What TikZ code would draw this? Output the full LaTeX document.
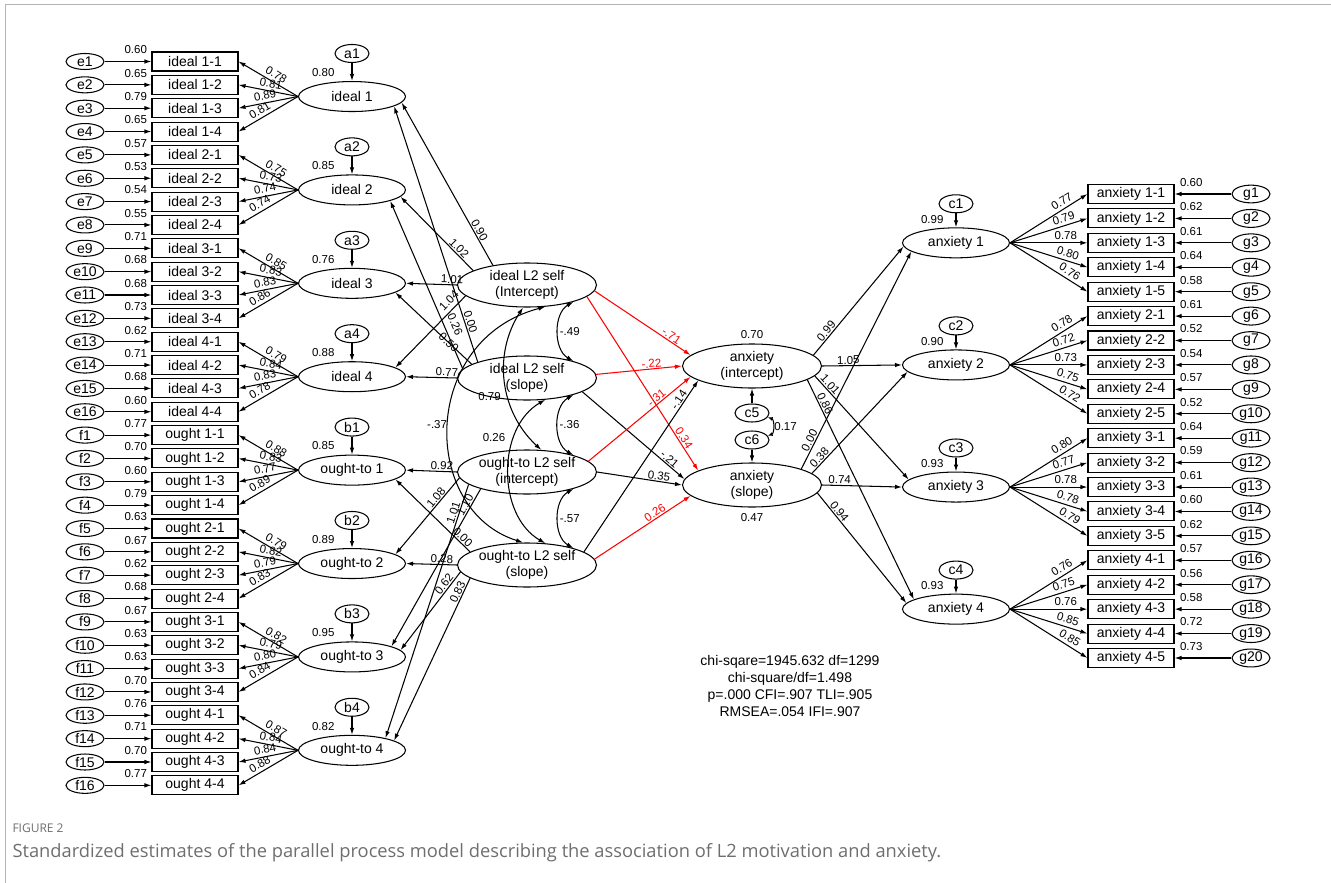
\documentclass[tikz,border=0pt]{standalone}
\usepackage{fontspec}
\setmainfont{Liberation Sans}
\newfontfamily\capfont{Open Sans}
\usetikzlibrary{arrows.meta,positioning,shapes.geometric}

\definecolor{capgray}{RGB}{110,110,110}
\definecolor{framegray}{RGB}{180,180,180}

\tikzset{
  obs/.style={draw, rectangle, minimum width=86pt, minimum height=19pt, inner sep=0pt, font=\fontsize{14}{16}\selectfont},
  lat/.style={draw, ellipse, minimum width=107pt, minimum height=30pt, inner sep=0pt, font=\fontsize{14}{16}\selectfont},
  growth/.style={draw, ellipse, minimum width=139pt, minimum height=44pt, inner sep=0pt, align=center, font=\fontsize{14}{16}\selectfont},
  err/.style={draw, ellipse, minimum width=38pt, minimum height=16pt, inner sep=0pt, font=\fontsize{14}{16}\selectfont},
  dist/.style={draw, ellipse, minimum width=34pt, minimum height=18pt, inner sep=0pt, font=\fontsize{14}{16}\selectfont},
  num/.style={inner sep=1pt, font=\fontsize{11.5}{13}\selectfont},
  reg/.style={-{Latex[length=7pt,width=4.5pt]}},
  rev/.style={{Latex[length=7pt,width=4.5pt]}-},
  cov/.style={{Latex[length=7pt,width=4.5pt]}-{Latex[length=7pt,width=4.5pt]}},
  hot/.style={reg, draw=red},
}

\begin{document}
\begin{tikzpicture}[x=1pt, y=-1pt, line width=1.05pt]
\useasboundingbox (0,0) rectangle (1331,883);
\draw[framegray, line width=1pt] (5,883) -- (5,5) -- (1331,5);

% items of the ideal L2 self
\foreach \kk in {1,...,4} {
  \foreach \mm in {1,...,4} {
    \pgfmathtruncatemacro\nn{4*(\kk-1)+\mm}
    \pgfmathsetmacro\yy{61.5+23.35*(\nn-1)}
    \node[err] (u\nn) at (85,\yy) {e\nn};
    \node[obs] (x\nn) at (195,\yy) {ideal \kk-\mm};
    \draw[reg] (u\nn) -- (x\nn);
  }
}
% items of the ought-to L2 self
\foreach \kk in {1,...,4} {
  \foreach \mm in {1,...,4} {
    \pgfmathtruncatemacro\jj{4*(\kk-1)+\mm}
    \pgfmathtruncatemacro\nn{16+\jj}
    \pgfmathsetmacro\yy{61.5+23.35*(\nn-1)}
    \node[err] (u\nn) at (85,\yy) {f\jj};
    \node[obs] (x\nn) at (195,\yy) {ought \kk-\mm};
    \draw[reg] (u\nn) -- (x\nn);
  }
}

% first-order factors, left
\foreach \kk/\txt/\rname/\rval in {1/ideal 1/a1/0.80, 2/ideal 2/a2/0.85, 3/ideal 3/a3/0.76, 4/ideal 4/a4/0.88,
    5/ought-to 1/b1/0.85, 6/ought-to 2/b2/0.89, 7/ought-to 3/b3/0.95, 8/ought-to 4/b4/0.82} {
  \pgfmathsetmacro\yy{61.5+23.35*(4*\kk-2.5)}
  \node[lat] (mot\kk) at (352,\yy) {\txt};
  \node[dist, above=18pt of mot\kk] (d\kk) {\rname};
  \draw[reg] (d\kk) -- (mot\kk);
  \node[num, anchor=south east, xshift=-16pt, yshift=3pt] (v\kk) at (mot\kk.north) {\rval};
}

% loadings and squared multiple correlations, left
\foreach \nn/\sq/\ld in {1/0.60/0.78, 2/0.65/0.81, 3/0.79/0.89, 4/0.65/0.81,
    5/0.57/0.75, 6/0.53/0.73, 7/0.54/0.74, 8/0.55/0.74,
    9/0.71/0.85, 10/0.68/0.83, 11/0.68/0.83, 12/0.73/0.86,
    13/0.62/0.79, 14/0.71/0.84, 15/0.68/0.83, 16/0.60/0.78,
    17/0.77/0.88, 18/0.70/0.83, 19/0.60/0.77, 20/0.79/0.89,
    21/0.63/0.79, 22/0.67/0.82, 23/0.62/0.79, 24/0.68/0.83,
    25/0.67/0.82, 26/0.63/0.79, 27/0.63/0.80, 28/0.70/0.84,
    29/0.76/0.87, 30/0.71/0.84, 31/0.70/0.84, 32/0.77/0.88} {
  \pgfmathtruncatemacro\qq{(\nn-1)/4+1}
  \pgfmathsetmacro\pp{0.62-0.05*(\nn-4*(\qq-1))}
  \node[num, anchor=south east, xshift=-3pt, yshift=-4pt] (s\nn) at (x\nn.north west) {\sq};
  \draw[rev] (x\nn.east) -- node[num, sloped, above=2pt, pos=\pp] {\ld} (mot\qq.west);
}

% items of anxiety
\foreach \kk in {1,...,4} {
  \foreach \mm in {1,...,5} {
    \pgfmathtruncatemacro\nn{5*(\kk-1)+\mm}
    \pgfmathsetmacro\yy{194+24.42*(\nn-1)}
    \node[obs] (z\nn) at (1131,\yy) {anxiety \kk-\mm};
    \node[err] (g\nn) at (1251,\yy) {g\nn};
    \draw[reg] (g\nn) -- (z\nn);
  }
}

% first-order factors, right
\foreach \kk/\rval in {1/0.99, 2/0.90, 3/0.93, 4/0.93} {
  \pgfmathsetmacro\yy{194+24.42*(5*\kk-3)}
  \node[lat] (anx\kk) at (956,\yy) {anxiety \kk};
  \node[dist, above=14pt of anx\kk] (c\kk) {c\kk};
  \draw[reg] (c\kk) -- (anx\kk);
  \node[num, anchor=south east, xshift=-11pt, yshift=2pt] (w\kk) at (anx\kk.north) {\rval};
}

% loadings and squared multiple correlations, right
\foreach \nn/\sq/\ld in {1/0.60/0.77, 2/0.62/0.79, 3/0.61/0.78, 4/0.64/0.80, 5/0.58/0.76,
    6/0.61/0.78, 7/0.52/0.72, 8/0.54/0.73, 9/0.57/0.75, 10/0.52/0.72,
    11/0.64/0.80, 12/0.59/0.77, 13/0.61/0.78, 14/0.60/0.78, 15/0.62/0.79,
    16/0.57/0.76, 17/0.56/0.75, 18/0.58/0.76, 19/0.72/0.85, 20/0.73/0.85} {
  \pgfmathtruncatemacro\qq{(\nn-1)/5+1}
  \node[num, anchor=south west, xshift=4pt, yshift=-4pt] (t\nn) at (z\nn.north east) {\sq};
  \draw[reg] (anx\qq.east) -- node[num, sloped, above=2pt, pos=0.72] {\ld} (z\nn.west);
}

% growth factors
\node[growth] (iI) at (527,285) {ideal L2 self\\(Intercept)};
\node[growth] (iS) at (527,378) {ideal L2 self\\(slope)};
\node[growth] (oI) at (527,472) {ought-to L2 self\\(intercept)};
\node[growth] (oS) at (527,565) {ought-to L2 self\\(slope)};
\node[growth] (aI) at (752,366) {anxiety\\(intercept)};
\node[growth] (aS) at (752,485) {anxiety\\(slope)};
\node[dist] (c5) at (752,413) {c5};
\node[dist] (c6) at (752,440) {c6};
\draw[reg] (c5) -- (aI);
\draw[reg] (c6) -- (aS);
\draw[{Latex[length=5pt,width=4pt]}-{Latex[length=5pt,width=4pt]}] (c5.-15) to[bend left=70] node[num, right] {0.17} (c6.15);
\node[num, anchor=south] (raI) at ([yshift=3pt]aI.north) {0.70};
\node[num, anchor=north] (raS) at ([yshift=-4pt]aS.south) {0.47};

% growth loadings, ideal L2 self
\draw[reg] (iI.150) -- node[num, sloped, above, pos=0.2] {0.90} (mot1.-7);
\draw[reg] (iI.165) -- node[num, sloped, above, pos=0.25] {1.02} (mot2.-8);
\draw[reg] (iI.180) -- node[num, sloped, above, pos=0.1] {1.01} (mot3.0);
\draw[reg] (iI.190) -- node[num, sloped, above=3pt, pos=0.15] {1.04} (mot4.12);
\draw[reg] (iS.162) -- node[num, sloped, above, pos=0.15] {0.00} (mot1.-13);
\draw[reg] (iS.172) -- node[num, sloped, above=5pt, pos=0.24] {0.26} (mot2.-16);
\draw[reg] (iS.166) -- node[num, sloped, pos=0.3] {0.50} (mot3.-12);
\draw[reg] (iS.180) -- node[num, sloped, above, pos=0.2] {0.77} (mot4.0);

% growth loadings, ought-to L2 self
\draw[reg] (oI.180) -- node[num, sloped, above, pos=0.3] {0.92} (mot5.0);
\draw[reg] (oI.185) -- node[num, sloped, above, pos=0.3] {1.08} (mot6.12);
\draw[reg] (oI.200) -- node[num, sloped, above, pos=0.12] {1.10} (mot7.15);
\draw[reg] (oI.192) -- node[num, sloped, above, pos=0.12] {1.01} (mot8.20);
\draw[reg] (oS.167) -- node[num, sloped, above, pos=0.15] {0.00} (mot5.-12);
\draw[reg] (oS.180) -- node[num, sloped, above, pos=0.3] {0.28} (mot6.0);
\draw[reg] (oS.186) -- node[num, sloped, above, pos=0.2] {0.62} (mot7.8);
\draw[reg] (oS.193) -- node[num, sloped, above, pos=0.1] {0.83} (mot8.13);

% covariances of the motivation growth factors
\draw[cov] (iI.-20) to[bend right=60] node[num, right] {-.49} (iS.20);
\draw[cov] (iS.-20) to[bend right=60] node[num, right] {-.36} (oI.20);
\draw[cov] (oI.-20) to[bend right=60] node[num, right] {-.57} (oS.20);
\draw[cov] (iI.-100) to[bend right=40] node[num, left=6pt, pos=0.6] {0.79} (oI.57);
\draw[cov] (iS.-50) to[bend right=60] node[num, left=8pt, pos=0.3] {0.26} (oS.50);
\draw[cov] (iI.-50) .. controls (420,340) and (420,510) .. node[num, left] {-.37} (oS.100);

% regressions on anxiety growth factors
\draw[hot] (iI.-5) -- node[num, text=red, sloped, above, pos=0.77] {-.71} (aI.170);
\draw[hot] (iI.-11) -- node[num, text=red, sloped, above, pos=0.83] {0.34} (aS.165);
\draw[hot] (iS.3) -- node[num, text=red, sloped, above, pos=0.65] {-.22} (aI.180);
\draw[reg] (iS.-14) -- node[num, sloped, above, pos=0.82] {-.21} (aS.175);
\draw[hot] (oI.10) -- node[num, text=red, sloped, above, pos=0.7] {-.31} (aI.190);
\draw[reg] (oI.0) -- node[num, sloped, above, pos=0.72] {0.35} (aS.180);
\draw[reg] (oS.13) -- node[num, sloped, above, pos=0.87] {-.14} (aI.195);
\draw[hot] (oS.5) -- node[num, text=red, sloped, above, pos=0.66] {0.26} (aS.190);

% growth loadings, anxiety
\draw[reg] (aI.10) -- node[num, sloped, above, pos=0.19] {0.99} (anx1.184);
\draw[reg] (aS.18) -- node[num, sloped, above, pos=0.12] {0.00} (anx1.191);
\draw[reg] (aI.0) -- node[num, sloped, above, pos=0.33] {1.05} (anx2.180);
\draw[reg] (aS.11) -- node[num, sloped, above, pos=0.12] {0.38} (anx2.188);
\draw[reg] (aI.-9) -- node[num, sloped, above, pos=0.12] {1.01} (anx3.171);
\draw[reg] (aS.0) -- node[num, sloped, above, pos=0.22] {0.74} (anx3.180);
\draw[reg] (aI.-14) -- node[num, sloped, above, pos=0.12] {0.86} (anx4.167);
\draw[reg] (aS.-7) -- node[num, sloped, above, pos=0.2] {0.94} (anx4.173);

% fit indices and caption
\node[align=center, font=\fontsize{14}{17}\selectfont] (fit) at (790,686)
  {chi-sqare=1945.632 df=1299\\chi-square/df=1.498\\p=.000 CFI=.907 TLI=.905\\RMSEA=.054 IFI=.907};
\node[anchor=west, inner sep=0pt, text=capgray, font=\capfont\fontsize{12}{14}\selectfont] (fig) at (12,828) {FIGURE 2};
\node[anchor=west, inner sep=0pt, text=capgray, font=\capfont\fontsize{18.3}{21}\selectfont] (cap) at (12,853)
  {Standardized estimates of the parallel process model describing the association of L2 motivation and anxiety.};
\end{tikzpicture}
\end{document}
